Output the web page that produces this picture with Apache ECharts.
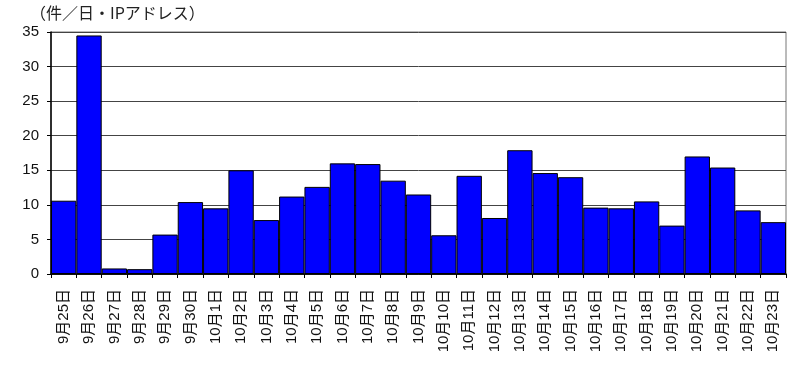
<!DOCTYPE html>
<html>
<head>
<meta charset="utf-8">
<script src="https://cdn.jsdelivr.net/npm/echarts@6/dist/echarts.min.js"></script>
<style>html,body{margin:0;padding:0;background:#fff;}#c{width:800px;height:378px;}</style>
</head>
<body>
<div id="c"></div>
<script>
var categories = ['9月25日','9月26日','9月27日','9月28日','9月29日','9月30日','10月1日','10月2日','10月3日','10月4日','10月5日','10月6日','10月7日','10月8日','10月9日','10月10日','10月11日','10月12日','10月13日','10月14日','10月15日','10月16日','10月17日','10月18日','10月19日','10月20日','10月21日','10月22日','10月23日'];
var values = [10.6,34.5,0.8,0.7,5.7,10.4,9.5,15.0,7.8,11.2,12.6,16.0,15.9,13.5,11.5,5.6,14.2,8.1,17.9,14.6,14.0,9.6,9.5,10.5,7.0,17.0,15.4,9.2,7.5];
var unitLabel = '（件／日・IPアドレス）';
var font = "'Liberation Sans', 'Noto Sans CJK JP', sans-serif";
var chart = echarts.init(document.getElementById('c'));
chart.setOption({
  animation: false,
  backgroundColor: '#fff',
  graphic: [{type:'text', left: 30, top: 5, style:{text: unitLabel, font: "16px 'Noto Sans CJK JP'", fill:'#222'}}],
  grid: {left: 51, right: 14, top: 32, bottom: 104, show: true, borderColor: '#777', borderWidth: 1},
  xAxis: {
    type: 'category', data: categories, boundaryGap: true,
    axisLine: {lineStyle: {color: '#000', width: 1.5}},
    axisTick: {show: true, length: 4, lineStyle: {color: '#000'}, alignWithLabel: false},
    axisLabel: {rotate: 90, interval: 0, color: '#111', fontSize: 15, fontFamily: font, margin: 15}
  },
  yAxis: {
    type: 'value', min: 0, max: 35, interval: 5,
    axisLine: {show: true, lineStyle: {color: '#000', width: 1.5}},
    axisTick: {show: true, length: 4, lineStyle: {color: '#000'}},
    axisLabel: {color: '#111', fontSize: 15, fontFamily: font, margin: 12},
    splitLine: {lineStyle: {color: '#444', width: 1}}
  },
  series: [{
    type: 'bar', data: values, barCategoryGap: '0%',
    itemStyle: {color: '#0000FF', borderColor: '#000', borderWidth: 1}
  }]
});
</script>
</body>
</html>
